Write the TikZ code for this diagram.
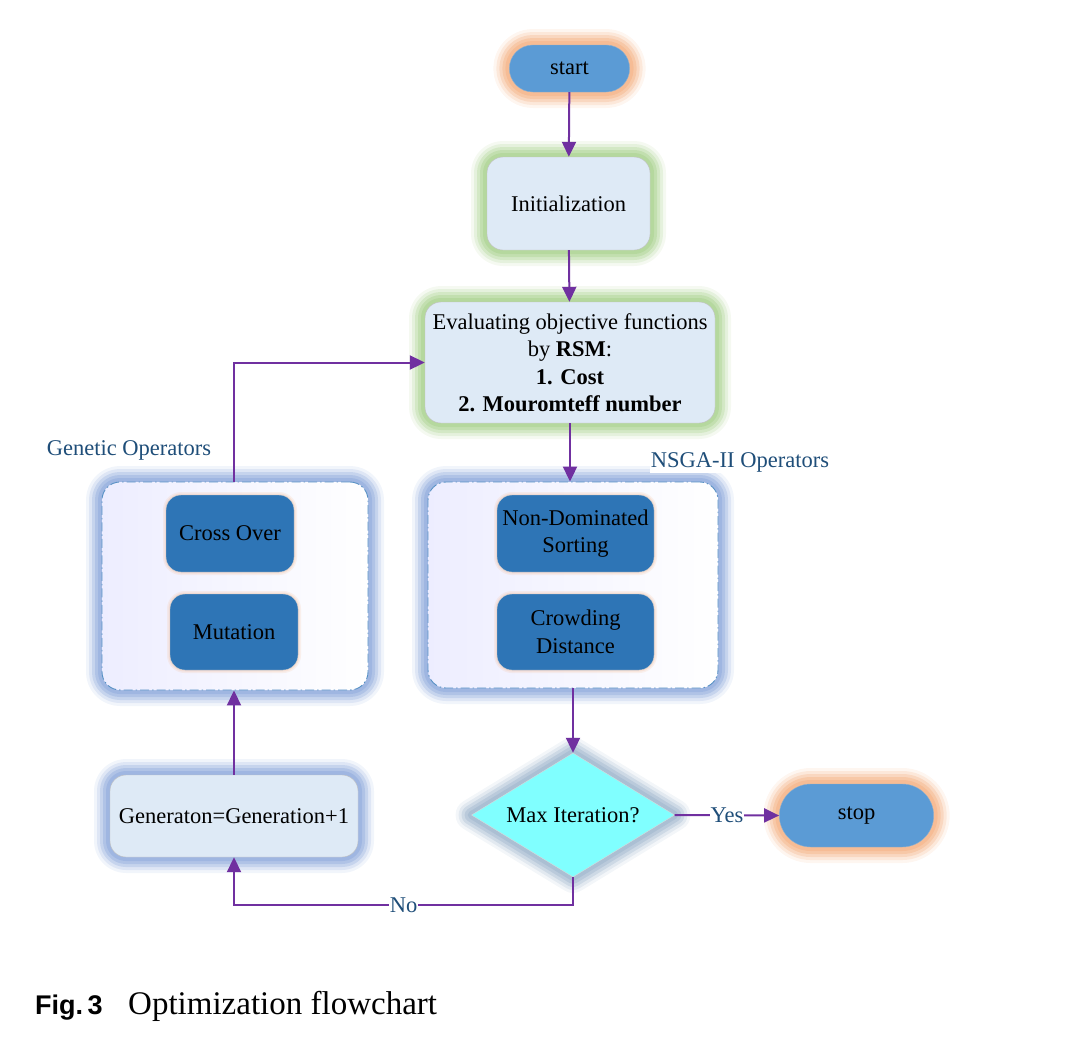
\documentclass[tikz,border=0pt]{standalone}
\usepackage{fontspec}
\setmainfont{Liberation Serif}
\newfontfamily\capsans{Liberation Sans}
\usetikzlibrary{shapes.geometric,shapes.misc,arrows.meta}

\definecolor{flowpurple}{HTML}{7030A0}
\definecolor{pillblue}{HTML}{5B9BD5}
\definecolor{opblue}{HTML}{2E75B6}
\definecolor{paleblue}{HTML}{DEEAF6}
\definecolor{lblblue}{HTML}{1F4E79}
\definecolor{glowgreen}{HTML}{A9D18E}
\definecolor{glowblue}{HTML}{8FAADC}
\definecolor{gloworange}{HTML}{F4B183}
\definecolor{glowgray}{HTML}{9DB4CC}
\definecolor{diamcyan}{HTML}{80FFFF}

\begin{document}
\begin{tikzpicture}[x=1pt, y=-1pt,
  font=\fontsize{22.5}{27.5}\selectfont,
  glow/.style={preaction={draw=#1, solid, line join=round, line width=32pt, draw opacity=.12},
               preaction={draw=#1, solid, line join=round, line width=26pt, draw opacity=.2},
               preaction={draw=#1, solid, line join=round, line width=20pt, draw opacity=.3},
               preaction={draw=#1, solid, line join=round, line width=14pt, draw opacity=.4},
               preaction={draw=#1, solid, line join=round, line width=8pt, draw opacity=.5}},
  softglow/.style={preaction={draw=#1, solid, line width=6pt, draw opacity=.15},
                   preaction={draw=#1, solid, line width=3pt, draw opacity=.2}},
  pill/.style={rounded rectangle, fill=pillblue, draw=pillblue!80!black!60, thin, glow=gloworange},
  procbox/.style={rectangle, rounded corners=16pt, fill=paleblue, draw=black!25, thin, align=center},
  group/.style={rectangle, rounded corners=18pt, left color=blue!7!white, right color=white,
                draw=opblue!80, line width=0.9pt, dash pattern=on 9pt off 3pt on 1.5pt off 3pt,
                glow=glowblue},
  opbox/.style={rectangle, rounded corners=15pt, fill=opblue, draw=black!20, thin, align=center,
                softglow=gloworange},
  decision/.style={diamond, aspect=1.64, inner sep=0pt, fill=diamcyan, draw=black!15, thin, glow=glowgray},
  lbl/.style={text=lblblue, fill=white, inner sep=1pt},
  flow/.style={draw=flowpurple, line width=2pt, -{Triangle[length=15pt, width=14pt]}}]

\useasboundingbox (0,0) rectangle (1092,1061);

% Main column
\node[pill, minimum width=127pt, minimum height=47pt] (start) at (569.5,68.5) {start};
\node[procbox, glow=glowgreen, minimum width=163pt, minimum height=93pt] (init) at (568.5,203.5) {Initialization};
\node[procbox, glow=glowgreen, minimum width=290pt, minimum height=121pt] (eval) at (570,362.5)
  {Evaluating objective functions\\ by \textbf{RSM}:\\ \textbf{1. Cost}\\ \textbf{2. Mouromteff number}};

% Operator groups
\node[group, minimum width=266pt, minimum height=208pt] (gen) at (235,586) {};
\node[group, minimum width=290pt, minimum height=206pt] (nsga) at (573,585) {};
\node[lbl] (genlbl) at (129,450) {Genetic Operators};
\node[lbl] (nsgalbl) at (740,462) {NSGA-II Operators};

\node[opbox, minimum width=128pt, minimum height=77pt] (cross) at (230,533.5) {Cross Over};
\node[opbox, minimum width=128pt, minimum height=76pt] (mut) at (234,632) {Mutation};
\node[opbox, minimum width=157pt, minimum height=77pt] (nds) at (575.5,533.5) {Non-Dominated\\ Sorting};
\node[opbox, minimum width=157pt, minimum height=76pt] (crowd) at (575.5,632) {Crowding\\ Distance};

% Loop and exit
\node[procbox, glow=glowblue, minimum width=248pt, minimum height=82pt] (upd) at (234,816) {Generaton=Generation+1};
\node[decision, minimum width=203pt, minimum height=124pt] (dec) at (573,815) {Max Iteration?};
\node[pill, minimum width=161pt, minimum height=63pt] (stop) at (856.5,815.5) {stop};

% Connectors
\draw[flow] (start) -- (init);
\draw[flow] (init) -- (eval);
\draw[flow] (eval.south) -- (eval.south |- nsga.north);
\draw[flow] (nsga.south) -- (dec.north);
\draw[flow] (dec.east) -- node[lbl] {Yes} (stop.west);
\draw[flow] (dec.south) -- ++(0,28) -| node[lbl, pos=0.25] {No} (upd.south);
\draw[flow] (upd.north) -- (upd.north |- gen.south);
\draw[flow] (gen.north -| upd.north) |- (eval.west);

% Caption
\node[anchor=base west, inner sep=0pt] (figno) at (35,1014) {\capsans\bfseries\fontsize{27}{32}\selectfont Fig.\,3};
\node[anchor=base west, inner sep=0pt] (figtxt) at (128,1014) {\fontsize{33}{40}\selectfont Optimization flowchart};

\end{tikzpicture}
\end{document}
